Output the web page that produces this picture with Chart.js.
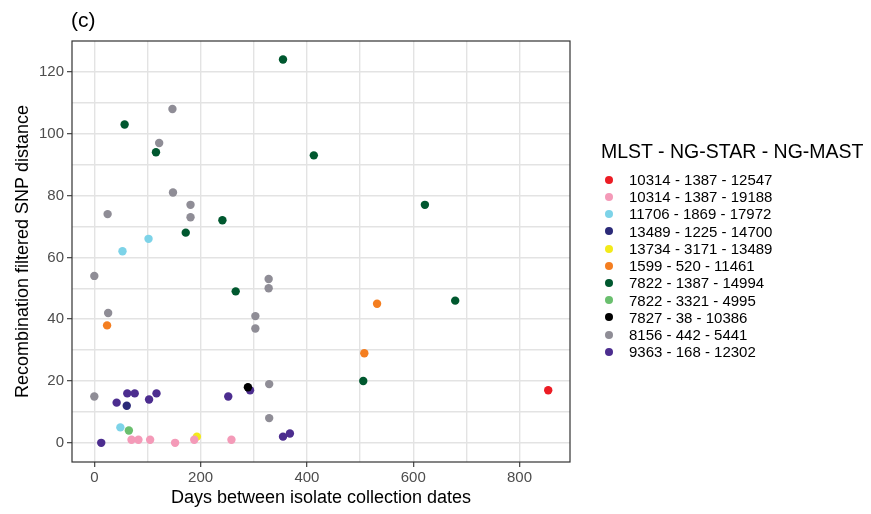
<!DOCTYPE html>
<html>
<head>
<meta charset="utf-8">
<script src="https://cdn.jsdelivr.net/npm/chart.js@4"></script>
<style>
  html, body { margin: 0; padding: 0; background: #fff; }
  #wrap { position: relative; width: 871px; height: 514px; font-family: "Liberation Sans", Arial, sans-serif; }
  #panel-tag { position: absolute; left: 71px; top: 8px; font-size: 21px; color: #000; }
  #legend { position: absolute; left: 601px; top: 139px; color: #000; }
  #legend .lg-title { font-size: 19.5px; line-height: 24px; margin-bottom: 8px; white-space: nowrap; }
  #legend .lg-item { position: relative; height: 17.24px; line-height: 17.24px; font-size: 15px; padding-left: 28px; white-space: nowrap; }
  #legend .lg-dot { position: absolute; left: 4px; top: 4.6px; width: 8px; height: 8px; border-radius: 50%; }
</style>
</head>
<body>
<div id="wrap">
  <canvas id="chart" width="871" height="514"></canvas>
  <div id="panel-tag">(c)</div>
  <div id="legend"></div>
</div>
<script>
// ---- data: MLST - NG-STAR - NG-MAST lineages ----
const lineages = [
  '10314 - 1387 - 12547',
  '10314 - 1387 - 19188',
  '11706 - 1869 - 17972',
  '13489 - 1225 - 14700',
  '13734 - 3171 - 13489',
  '1599 - 520 - 11461',
  '7822 - 1387 - 14994',
  '7822 - 3321 - 4995',
  '7827 - 38 - 10386',
  '8156 - 442 - 5441',
  '9363 - 168 - 12302'
];
const lineageColours = [
  '#EC1C24', '#F49AB8', '#7DD3E8', '#2B2A78', '#F3EA1A', '#F47E20',
  '#00582F', '#6ABF6E', '#000000', '#8F8D96', '#4C2D8F'
];
// days between collection dates, one list per lineage
const days = [
  [854],
  [70, 83, 105, 152, 188, 258],
  [53, 49, 102],
  [61],
  [193],
  [24, 532, 508],
  [355, 57, 116, 413, 241, 172, 266, 622, 679, 506],
  [65],
  [289],
  [147, 122, 148, 181, 181, 25, 0, 328, 328, 26, 303, 303, 329, 0, 329],
  [293, 62, 76, 117, 103, 42, 252, 13, 355, 368]
];
// recombination filtered SNP distance, same order
const snp = [
  [17],
  [1, 1, 1, 0, 1, 1],
  [62, 5, 66],
  [12],
  [2],
  [38, 45, 29],
  [124, 103, 94, 93, 72, 68, 49, 77, 46, 20],
  [4],
  [18],
  [108, 97, 81, 77, 73, 74, 54, 53, 50, 42, 41, 37, 19, 15, 8],
  [17, 16, 16, 16, 14, 13, 15, 0, 2, 3]
];
const xTicks = [0, 100, 200, 300, 400, 500, 600, 700, 800];
const yTicks = [0, 10, 20, 30, 40, 50, 60, 70, 80, 90, 100, 110, 120];
const xMajor = [0, 200, 400, 600, 800];
const yMajor = [0, 20, 40, 60, 80, 100, 120];

const datasets = lineages.map((name, i) => ({
  label: name,
  data: days[i].map((d, j) => ({ x: d, y: snp[i][j] })),
  backgroundColor: lineageColours[i],
  borderWidth: 0,
  pointRadius: 4.2,
  pointHoverRadius: 4.2
}));

// html legend
const legendEl = document.getElementById('legend');
legendEl.innerHTML = `<div class="lg-title">MLST - NG-STAR - NG-MAST</div>` +
  lineages.map((n, i) => `<div class="lg-item"><span class="lg-dot" style="background:${lineageColours[i]}"></span>${n}</div>`).join('');

// dark frame round the panel
const panelBorder = {
  id: 'panelBorder',
  afterDraw(chart) {
    const { ctx, chartArea: a } = chart;
    ctx.save();
    ctx.strokeStyle = '#333333';
    ctx.lineWidth = 1.2;
    ctx.strokeRect(a.left, a.top, a.right - a.left, a.bottom - a.top);
    ctx.restore();
  }
};

const tickFont = { family: 'Liberation Sans', size: 15 };
const titleFont = { family: 'Liberation Sans', size: 18 };

new Chart(document.getElementById('chart'), {
  type: 'scatter',
  data: { datasets },
  plugins: [panelBorder],
  options: {
    responsive: false,
    animation: false,
    layout: { padding: { left: 8, right: 301, top: 41, bottom: 0 } },
    plugins: { legend: { display: false }, tooltip: { enabled: false } },
    scales: {
      x: {
        type: 'linear', min: -42, max: 895,
        afterBuildTicks: s => { s.ticks = xTicks.map(v => ({ value: v })); },
        afterFit: s => { s.height = 52; },
        ticks: {
          color: '#4D4D4D', font: tickFont, padding: 2, maxRotation: 0, autoSkip: false,
          callback: v => xMajor.includes(v) ? String(v) : ''
        },
        grid: {
          color: '#E3E3E3', lineWidth: 1.4, tickLength: 5,
          tickColor: c => xMajor.includes(c.tick.value) ? '#333333' : 'rgba(0,0,0,0)',
          tickWidth: 1.1
        },
        border: { display: false },
        title: { display: true, text: 'Days between isolate collection dates', color: '#000', font: titleFont, padding: { top: 0, bottom: 5 } }
      },
      y: {
        type: 'linear', min: -6.2, max: 130,
        afterBuildTicks: s => { s.ticks = yTicks.map(v => ({ value: v })); },
        afterFit: s => { s.width = 64; },
        ticks: {
          color: '#4D4D4D', font: tickFont, padding: 3, autoSkip: false,
          callback: v => yMajor.includes(v) ? String(v) : ''
        },
        grid: {
          color: '#E3E3E3', lineWidth: 1.4, tickLength: 5,
          tickColor: c => yMajor.includes(c.tick.value) ? '#333333' : 'rgba(0,0,0,0)',
          tickWidth: 1.1
        },
        border: { display: false },
        title: { display: true, text: 'Recombination filtered SNP distance', color: '#000', font: titleFont, padding: { top: 4, bottom: 0 } }
      }
    }
  }
});
</script>
</body>
</html>
